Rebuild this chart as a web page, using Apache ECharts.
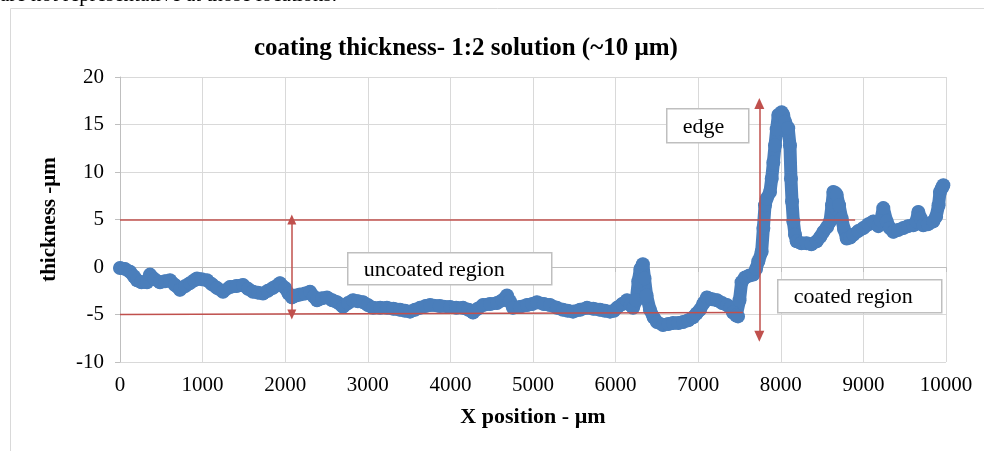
<!DOCTYPE html>
<html>
<head>
<meta charset="utf-8">
<script src="https://cdn.jsdelivr.net/npm/echarts@6/dist/echarts.min.js"></script>
<style>
  html,body{margin:0;padding:0;background:#fff;}
  #b{width:984px;height:451px;}
</style>
</head>
<body>
<div id="b"></div>
<script>
// x position (µm) and thickness (µm)
var xPos = [0,60,121,170,206,260,327,363,420,484,545,605,665,726,790,847,900,932,990,1053,
  1110,1174,1247,1332,1410,1489,1550,1610,1670,1731,1790,1852,1937,1998,2040,2082,2130,2179,2240,2300,
  2345,2385,2445,2506,2570,2627,2700,2760,2821,2880,2942,3000,3063,3150,3232,3310,3390,3450,3511,3570,
  3632,3700,3753,3870,3995,4070,4153,4220,4274,4330,4395,4480,4564,4630,4685,4720,4758,4840,4927,4990,
  5048,5130,5206,5290,5363,5420,5484,5570,5654,5730,5811,5870,5932,5980,6017,6080,6138,6180,6211,6250,
  6275,6300,6330,6350,6375,6416,6460,6501,6574,6640,6695,6760,6816,6880,6937,6980,7022,7065,7107,7170,
  7228,7290,7349,7390,7421,7460,7482,7500,7525,7567,7620,7667,7700,7728,7768,7789,7809,7829,7869,7890,
  7910,7930,7950,7970,8010,8030,8051,8090,8111,8123,8136,8152,8172,8192,8250,8313,8370,8434,8480,8515,
  8560,8596,8620,8636,8660,8676,8705,8737,8765,8798,8840,8878,8940,9000,9060,9120,9180,9210,9241,9282,
  9320,9362,9420,9483,9540,9604,9640,9665,9695,9725,9780,9846,9880,9910,9927,9950,9968];
var thick = [-0.1,-0.2,-0.5,-1.0,-1.4,-1.6,-1.6,-0.8,-1.3,-1.6,-1.5,-1.4,-1.9,-2.4,-2.0,-1.7,-1.4,-1.2,-1.3,-1.4,
  -1.8,-2.2,-2.6,-2.1,-2.0,-1.9,-2.3,-2.6,-2.7,-2.8,-2.5,-2.2,-1.7,-2.2,-2.8,-3.2,-3.0,-2.9,-2.8,-2.6,
  -3.1,-3.5,-3.3,-3.2,-3.5,-3.7,-4.2,-3.8,-3.5,-3.6,-3.7,-4.0,-4.3,-4.3,-4.3,-4.4,-4.5,-4.6,-4.7,-4.5,
  -4.3,-4.1,-4.0,-4.1,-4.2,-4.3,-4.3,-4.5,-4.8,-4.4,-4.0,-3.9,-3.8,-3.5,-3.0,-3.6,-4.3,-4.2,-4.0,-3.9,
  -3.7,-3.9,-4.0,-4.3,-4.5,-4.6,-4.7,-4.5,-4.3,-4.4,-4.5,-4.6,-4.7,-4.6,-4.3,-3.9,-3.5,-4.0,-4.3,-3.5,
  -1.5,-0.2,0.3,-1.2,-3.0,-4.5,-5.3,-5.8,-6.1,-6.0,-5.9,-5.9,-5.8,-5.6,-5.3,-4.9,-4.5,-3.8,-3.2,-3.4,
  -3.5,-3.8,-4.0,-4.3,-4.8,-5.1,-5.2,-3.5,-1.6,-1.1,-0.9,-0.8,-0.2,0.6,1.6,4.1,6.5,7.2,7.9,9.3,
  11.0,12.8,14.5,16.0,16.3,16.0,15.3,14.6,12.8,9.3,6.9,4.8,3.4,2.7,2.5,2.5,2.4,2.7,3.2,3.7,
  4.2,4.8,6.5,7.9,7.8,7.6,6.5,5.1,4.0,3.0,3.1,3.4,3.8,4.1,4.5,4.8,4.3,4.9,6.2,4.8,
  4.1,3.7,3.9,4.1,4.3,4.4,4.8,5.8,5.1,4.4,4.5,4.8,5.3,6.5,7.9,8.3,8.6];

var xTicks = [0,1000,2000,3000,4000,5000,6000,7000,8000,9000,10000];
var yTicks = [-10,-5,0,5,10,15,20];

// red guide lines [x1,y1,x2,y2]
var bandTop = [0,5,8900,5];
var bandBottom = [0,-5,7540,-4.8];
var arrowUncoated = [2080,5,2080,-5];
var arrowEdge = [7740,17.2,7740,-7.3];

var pts = xPos.map(function(x,i){return [x,thick[i]];});
var serif = '"Liberation Serif","DejaVu Serif",serif';

function box(x,y,w,h,txt){
  return {type:'group',left:x,top:y,children:[
    {type:'rect',shape:{x:0,y:0,width:w,height:h},style:{fill:'#fff',stroke:'#bfbfbf',lineWidth:1.5},z:10},
    {type:'text',x:16,y:h/2+1,style:{text:txt,fill:'#000',font:'22px '+serif,align:'left',verticalAlign:'middle'},z:11}
  ]};
}

var myChart = echarts.init(document.getElementById('b'));
var option = {
  animation:false,
  title:{
    text:'coating thickness- 1:2 solution (~10 µm)',
    left:249, top:31,
    textStyle:{fontFamily:serif,fontWeight:'bold',fontSize:25,color:'#000'}
  },
  grid:{left:120,right:38,top:77,bottom:89},
  xAxis:{
    type:'value', min:xTicks[0], max:xTicks[xTicks.length-1], interval:1000,
    name:'X position - µm', nameLocation:'middle', nameGap:44,
    nameTextStyle:{fontFamily:serif,fontWeight:'bold',fontSize:22,color:'#000'},
    axisLine:{show:true,lineStyle:{color:'#bfbfbf'}},
    axisTick:{show:true,length:5,lineStyle:{color:'#bfbfbf'}},
    axisLabel:{fontFamily:serif,fontSize:21,color:'#000',margin:13,formatter:function(v){return String(v);}},
    splitLine:{show:true,lineStyle:{color:'#d9d9d9'}}
  },
  yAxis:{
    type:'value', min:yTicks[0], max:yTicks[yTicks.length-1], interval:5,
    name:'thickness -µm', nameLocation:'middle', nameGap:60,
    nameTextStyle:{fontFamily:serif,fontWeight:'bold',fontSize:21,color:'#000'},
    axisLine:{show:true,lineStyle:{color:'#bfbfbf'}},
    axisTick:{show:true,length:5,lineStyle:{color:'#bfbfbf'}},
    axisLabel:{fontFamily:serif,fontSize:21,color:'#000',margin:16},
    splitLine:{show:true,lineStyle:{color:'#d9d9d9'}}
  },
  series:[
    {
      type:'line', data:pts, symbol:'circle', symbolSize:14, showAllSymbol:true,
      itemStyle:{color:'#4a7ebb'},
      lineStyle:{color:'#4a7ebb',width:13,cap:'round',join:'round'},
      z:2
    },
    {
      type:'line', data:[], z:5,
      markLine:{
        silent:true, animation:false,
        label:{show:false},
        lineStyle:{color:'#c0504d',width:1.5,type:'solid'},
        data:[
          [{coord:[bandTop[0],bandTop[1]],symbol:'none'},{coord:[bandTop[2],bandTop[3]],symbol:'none'}],
          [{coord:[bandBottom[0],bandBottom[1]],symbol:'none'},{coord:[bandBottom[2],bandBottom[3]],symbol:'none'}],
          [{coord:[arrowUncoated[0],arrowUncoated[1]],symbol:'triangle',symbolSize:[9,10]},{coord:[arrowUncoated[2],arrowUncoated[3]],symbol:'triangle',symbolSize:[9,10]}],
          [{coord:[arrowEdge[0],arrowEdge[1]],symbol:'triangle',symbolSize:[10,11]},{coord:[arrowEdge[2],arrowEdge[3]],symbol:'triangle',symbolSize:[10,11]}]
        ]
      }
    }
  ],
  graphic:[
    {type:'text',left:0,top:-15,style:{text:'are not representative at those locations.',font:'21px '+serif,fill:'#000'}},
    {type:'rect',shape:{x:10.5,y:8.5,width:1000,height:500},style:{fill:'none',stroke:'#d9d9d9',lineWidth:1}},
    box(666,108,82,34,'edge'),
    box(347,252,204,32,'uncoated region'),
    box(777,279,164,33,'coated region')
  ]
};
option && myChart.setOption(option);
window.addEventListener("resize", function() {
  myChart.resize();
});
</script>
</body>
</html>
